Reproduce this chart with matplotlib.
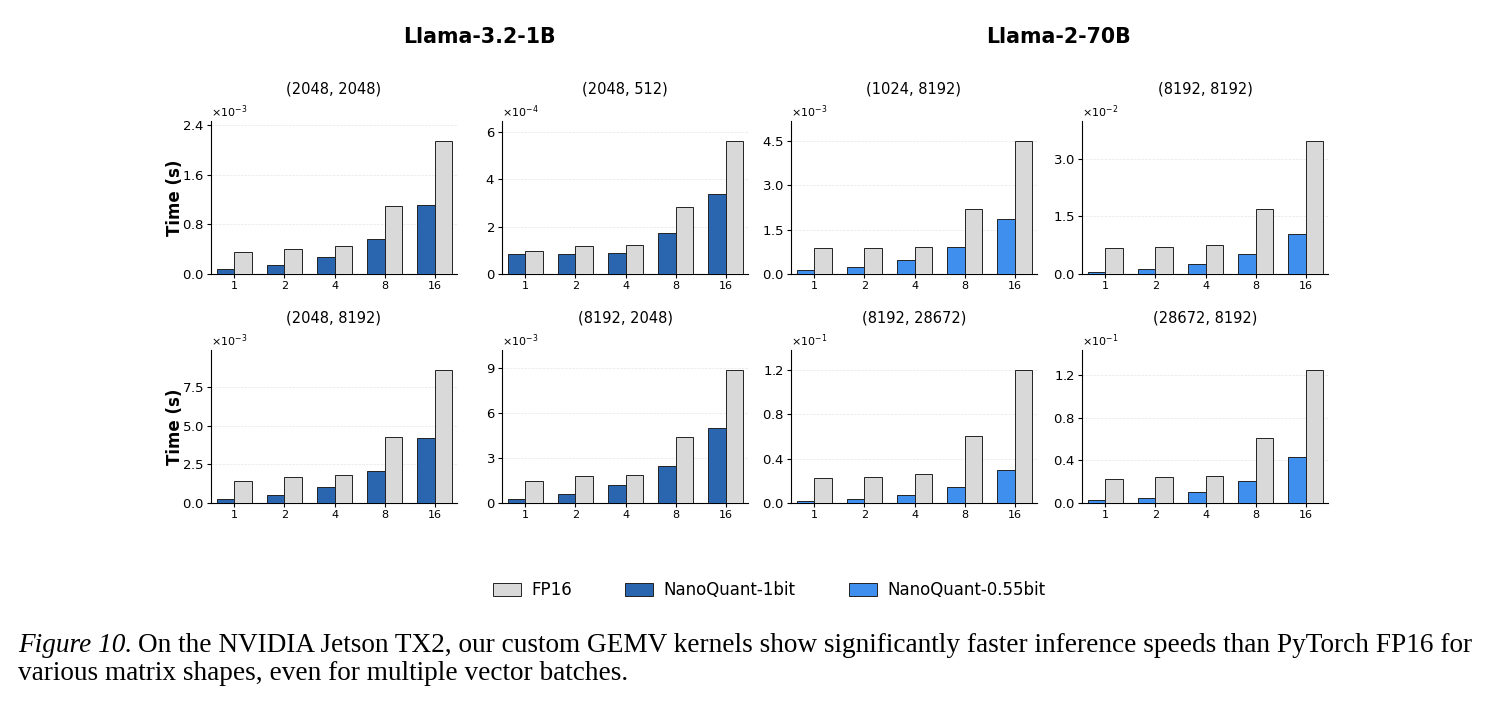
import numpy as np
import matplotlib
matplotlib.use('Agg')
import matplotlib.pyplot as plt
from matplotlib.ticker import ScalarFormatter
from matplotlib.patches import Patch

batches = ['1', '2', '4', '8', '16']

shapes = ['(2048, 2048)', '(2048, 512)', '(1024, 8192)', '(8192, 8192)',
          '(2048, 8192)', '(8192, 2048)', '(8192, 28672)', '(28672, 8192)']

# seconds, one list per panel (row major)
fp16 = [
    [0.357e-3, 0.41e-3, 0.444e-3, 1.094e-3, 2.145e-3],
    [0.98e-4, 1.19e-4, 1.21e-4, 2.81e-4, 5.62e-4],
    [0.88e-3, 0.88e-3, 0.92e-3, 2.20e-3, 4.49e-3],
    [0.68e-2, 0.71e-2, 0.75e-2, 1.69e-2, 3.47e-2],
    [1.44e-3, 1.66e-3, 1.79e-3, 4.31e-3, 8.63e-3],
    [1.48e-3, 1.81e-3, 1.88e-3, 4.38e-3, 8.86e-3],
    [0.227e-1, 0.236e-1, 0.264e-1, 0.60e-1, 1.20e-1],
    [0.226e-1, 0.242e-1, 0.255e-1, 0.61e-1, 1.245e-1],
]
nanoquant = [
    [0.081e-3, 0.146e-3, 0.28e-3, 0.558e-3, 1.105e-3],
    [0.85e-4, 0.85e-4, 0.89e-4, 1.74e-4, 3.39e-4],
    [0.14e-3, 0.24e-3, 0.46e-3, 0.92e-3, 1.84e-3],
    [0.06e-2, 0.13e-2, 0.26e-2, 0.53e-2, 1.04e-2],
    [0.26e-3, 0.52e-3, 1.05e-3, 2.09e-3, 4.23e-3],
    [0.27e-3, 0.60e-3, 1.23e-3, 2.48e-3, 4.99e-3],
    [0.018e-1, 0.036e-1, 0.073e-1, 0.145e-1, 0.297e-1],
    [0.025e-1, 0.05e-1, 0.104e-1, 0.21e-1, 0.43e-1],
]
# which quantized variant each panel shows
variant = ['1bit', '1bit', '0.55bit', '0.55bit', '1bit', '1bit', '0.55bit', '0.55bit']

yticks = [
    [0, 0.8e-3, 1.6e-3, 2.4e-3],
    [0, 2e-4, 4e-4, 6e-4],
    [0, 1.5e-3, 3.0e-3, 4.5e-3],
    [0, 1.5e-2, 3.0e-2],
    [0, 2.5e-3, 5.0e-3, 7.5e-3],
    [0, 3e-3, 6e-3, 9e-3],
    [0, 0.4e-1, 0.8e-1, 1.2e-1],
    [0, 0.4e-1, 0.8e-1, 1.2e-1],
]

c_fp16 = '#d9d9d9'
c_1bit = '#2a66b0'
c_055 = '#3f8fee'

W, H = 1491, 705
fig = plt.figure(figsize=(W / 100, H / 100), dpi=100)

lefts = [211, 502, 791, 1082]
tops = [121, 350]
aw, ah = 246, 153

x = np.arange(len(batches))
bw = 0.35
for i in range(8):
    r, c = divmod(i, 4)
    ax = fig.add_axes([lefts[c] / W, 1 - (tops[r] + ah) / H, aw / W, ah / H])
    qc = c_1bit if variant[i] == '1bit' else c_055
    ax.bar(x - bw / 2, nanoquant[i], bw, color=qc, edgecolor='#222222', linewidth=0.7, zorder=3)
    ax.bar(x + bw / 2, fp16[i], bw, color=c_fp16, edgecolor='#222222', linewidth=0.7, zorder=3)
    ax.set_xlim(-0.46, 4.44)
    ax.set_ylim(0, max(fp16[i]) * 1.15)
    ax.set_xticks(x)
    ax.set_xticklabels(batches, fontsize=8)
    ax.set_yticks(yticks[i])
    fmt = ScalarFormatter(useMathText=True)
    fmt.set_powerlimits((0, 0))
    ax.yaxis.set_major_formatter(fmt)
    ax.yaxis.get_offset_text().set_fontsize(8)
    ax.tick_params(axis='y', labelsize=9.5, length=3, pad=2)
    ax.tick_params(axis='x', length=3, pad=2)
    ax.spines['top'].set_visible(False)
    ax.spines['right'].set_visible(False)
    ax.yaxis.grid(True, linestyle='--', linewidth=0.5, color='#e6e6e6', zorder=0)
    ax.set_axisbelow(True)
    ax.set_title(shapes[i], fontsize=10.5, pad=20)
    if c == 0:
        ax.set_ylabel('Time (s)', fontsize=12, fontweight='bold')
        ax.yaxis.set_label_coords(-0.11, 0.5)

fig.text((211 + 748) / 2 / W, 1 - 37 / H, 'Llama-3.2-1B', ha='center', va='center',
         fontsize=14.8, fontweight='bold')
fig.text((791 + 1327) / 2 / W, 1 - 37 / H, 'Llama-2-70B', ha='center', va='center',
         fontsize=14.8, fontweight='bold')

handles = [Patch(facecolor=c_fp16, edgecolor='#222222', linewidth=0.7, label='FP16'),
           Patch(facecolor=c_1bit, edgecolor='#222222', linewidth=0.7, label='NanoQuant-1bit'),
           Patch(facecolor=c_055, edgecolor='#222222', linewidth=0.7, label='NanoQuant-0.55bit')]
fig.legend(handles=handles, loc='center', bbox_to_anchor=(769 / W, 1 - 590 / H), ncol=3,
           frameon=False, fontsize=12, handlelength=1.7, handleheight=0.8,
           columnspacing=3.2, handletextpad=0.6)

# caption
serif = 'Liberation Serif'
cap_fs = 19.6
t1 = fig.text(18 / W, 1 - 652 / H, 'Figure 10.', fontsize=cap_fs, family=serif, style='italic',
              va='baseline')
renderer = fig.canvas.get_renderer()
bb = t1.get_window_extent(renderer)
fig.text((bb.x1 + 6) / W, 1 - 652 / H,
         'On the NVIDIA Jetson TX2, our custom GEMV kernels show significantly faster '
         'inference speeds than PyTorch FP16 for',
         fontsize=cap_fs, family=serif, va='baseline')
fig.text(18 / W, 1 - 680 / H, 'various matrix shapes, even for multiple vector batches.',
         fontsize=cap_fs, family=serif, va='baseline')

fig.savefig('out.png', dpi=100)
